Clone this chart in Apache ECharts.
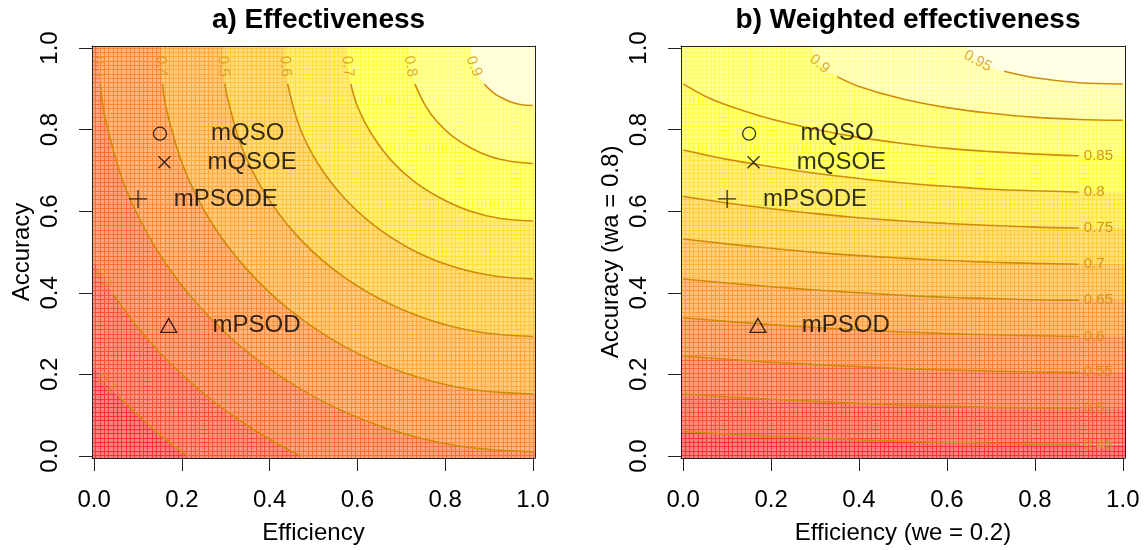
<!DOCTYPE html>
<html><head><meta charset="utf-8">
<script src="https://cdn.jsdelivr.net/npm/echarts@6/dist/echarts.min.js"></script>
<style>html,body{margin:0;padding:0;background:#fff}#c{width:1145px;height:550px}</style>
</head><body><div id="c"></div>
<script>
// ---------- data ----------
const tickValues = [0, 0.2, 0.4, 0.6, 0.8, 1.0];

const methodNames = ['mQSO', 'mQSOE', 'mPSODE', 'mPSOD'];
const methodEfficiency = [0.15, 0.16, 0.10, 0.17];
const methodAccuracy = [0.79, 0.72, 0.63, 0.32];

// panel a) contour levels and their traced lines [efficiency, accuracy]
const levelsA = [0.1, 0.2, 0.3, 0.4, 0.5, 0.6, 0.7, 0.8, 0.9];
const contourA_01 = [[0,0.213],[0.029,0.177],[0.055,0.147],[0.075,0.126],[0.1,0.1],[0.126,0.075],[0.147,0.055],[0.175,0.031],[0.2,0.01],[0.213,0]];
const contourA_02 = [[0,0.471],[0.02,0.435],[0.043,0.397],[0.1,0.314],[0.15,0.253],[0.2,0.2],[0.25,0.153],[0.3,0.111],[0.35,0.074],[0.4,0.041],[0.45,0.011],[0.471,0]];
const contourA_03 = [[0.01,1],[0.011,0.955],[0.014,0.912],[0.025,0.828],[0.07,0.661],[0.143,0.505],[0.242,0.364],[0.364,0.242],[0.505,0.143],[0.661,0.07],[0.828,0.025],[1,0.01]];
const contourA_04 = [[0.152,1],[0.153,0.955],[0.156,0.912],[0.164,0.853],[0.203,0.71],[0.265,0.576],[0.35,0.455],[0.455,0.35],[0.576,0.265],[0.71,0.203],[0.853,0.164],[1,0.152]];
const contourA_05 = [[0.293,1],[0.294,0.955],[0.298,0.912],[0.304,0.877],[0.336,0.758],[0.388,0.646],[0.458,0.545],[0.545,0.458],[0.646,0.388],[0.758,0.336],[0.877,0.304],[1,0.293]];
const contourA_06 = [[0.434,1],[0.436,0.955],[0.441,0.912],[0.468,0.807],[0.51,0.717],[0.567,0.636],[0.636,0.567],[0.717,0.51],[0.807,0.468],[0.902,0.443],[1,0.434]];
const contourA_07 = [[0.576,1],[0.578,0.955],[0.585,0.912],[0.601,0.855],[0.633,0.788],[0.675,0.727],[0.727,0.675],[0.788,0.633],[0.855,0.601],[0.926,0.582],[1,0.576]];
const contourA_08 = [[0.717,1],[0.721,0.955],[0.731,0.912],[0.755,0.859],[0.783,0.818],[0.818,0.783],[0.859,0.755],[0.903,0.734],[0.951,0.722],[1,0.717]];
const contourA_09 = [[0.859,1],[0.861,0.975],[0.866,0.955],[0.878,0.929],[0.889,0.912],[0.9,0.9],[0.912,0.889],[0.929,0.878],[0.952,0.867],[0.975,0.861],[1,0.859]];
const contoursA = [contourA_01, contourA_02, contourA_03, contourA_04, contourA_05, contourA_06, contourA_07, contourA_08, contourA_09];

// panel b) contour levels and their traced lines
const levelsB = [0.45, 0.5, 0.55, 0.6, 0.65, 0.7, 0.75, 0.8, 0.85, 0.9, 0.95];
const contourB_045 = [[0,0.06],[0.1,0.054],[0.2,0.049],[0.3,0.044],[0.4,0.039],[0.5,0.036],[0.6,0.033],[0.7,0.031],[0.8,0.029],[0.9,0.028],[1,0.028]];
const contourB_050 = [[0,0.152],[0.1,0.145],[0.2,0.139],[0.3,0.134],[0.4,0.129],[0.5,0.125],[0.6,0.122],[0.7,0.119],[0.8,0.118],[0.9,0.117],[1,0.116]];
const contourB_055 = [[0,0.245],[0.1,0.237],[0.2,0.23],[0.3,0.224],[0.4,0.219],[0.5,0.214],[0.6,0.211],[0.7,0.208],[0.8,0.206],[0.9,0.205],[1,0.205]];
const contourB_060 = [[0,0.339],[0.1,0.33],[0.2,0.322],[0.3,0.315],[0.4,0.309],[0.5,0.304],[0.6,0.3],[0.7,0.297],[0.8,0.295],[0.9,0.293],[1,0.293]];
const contourB_065 = [[0,0.434],[0.1,0.424],[0.2,0.415],[0.3,0.407],[0.4,0.4],[0.5,0.394],[0.6,0.389],[0.7,0.386],[0.8,0.383],[0.9,0.382],[1,0.381]];
const contourB_070 = [[0,0.532],[0.1,0.52],[0.2,0.509],[0.3,0.499],[0.4,0.491],[0.5,0.485],[0.6,0.479],[0.7,0.475],[0.8,0.472],[0.9,0.47],[1,0.47]];
const contourB_075 = [[0,0.636],[0.1,0.62],[0.2,0.606],[0.3,0.594],[0.4,0.584],[0.5,0.576],[0.6,0.57],[0.7,0.565],[0.8,0.561],[0.9,0.559],[1,0.558]];
const contourB_080 = [[0,0.75],[0.1,0.727],[0.2,0.709],[0.3,0.693],[0.4,0.68],[0.5,0.669],[0.6,0.661],[0.7,0.654],[0.8,0.65],[0.9,0.647],[1,0.646]];
const contourB_085 = [[0,0.912],[0.05,0.882],[0.1,0.86],[0.2,0.826],[0.3,0.801],[0.4,0.781],[0.5,0.766],[0.6,0.754],[0.7,0.746],[0.8,0.74],[0.9,0.736],[1,0.735]];
const contourB_090 = [[0.293,1],[0.3,0.975],[0.31,0.961],[0.35,0.93],[0.4,0.906],[0.5,0.875],[0.6,0.854],[0.7,0.84],[0.8,0.83],[0.9,0.825],[1,0.823]];
const contourB_095 = [[0.646,1],[0.66,0.976],[0.67,0.968],[0.7,0.953],[0.73,0.943],[0.8,0.927],[0.9,0.915],[1,0.912]];
const contoursB = [contourB_045, contourB_050, contourB_055, contourB_060, contourB_065, contourB_070, contourB_075, contourB_080, contourB_085, contourB_090, contourB_095];

// ---------- styles ----------
const FONT = "'Liberation Sans', Arial, Helvetica, sans-serif";
const heat10 = ['#FF0000','#FF2400','#FF4900','#FF6D00','#FF9200','#FFB600','#FFDB00','#FFFF00','#FFFF40','#FFFFBF'];
const heat12 = ['#FF0000','#FF2000','#FF4000','#FF6000','#FF8000','#FF9F00','#FFBF00','#FFDF00','#FFFF00','#FFFF2A','#FFFF80','#FFFFD5'];
const LINE_COLOR = '#cf8c0c';
const LABEL_COLOR = '#d2961e';
const XMIN = -0.005, XMAX = 1.005, YMIN = -0.005, YMAX = 1.005;
const GRIDS = [{left: 92, top: 46, width: 443, height: 412}, {left: 681, top: 46, width: 444, height: 412}];
const SM = 0.35;

function blend(hex, a) {
  const r = parseInt(hex.slice(1,3),16), g = parseInt(hex.slice(3,5),16), b = parseInt(hex.slice(5,7),16);
  const m = c => Math.round(255*(1-a) + c*a);
  return 'rgb(' + m(r) + ',' + m(g) + ',' + m(b) + ')';
}
function pattern(hex) {
  const cv = document.createElement('canvas');
  cv.width = 13; cv.height = 13;
  const ctx = cv.getContext('2d');
  ctx.fillStyle = blend(hex, 0.5); ctx.fillRect(0,0,13,13);
  ctx.fillStyle = blend(hex, 0.8);
  [0,4,9].forEach(p => { ctx.fillRect(p,0,1,13); ctx.fillRect(0,p,13,1); });
  return {image: cv, repeat: 'repeat'};
}
// stretch a traced line to the plot frame so the colour band fills reach the box
function extend(pts) {
  const out = pts.slice();
  const f = out[0], l = out[out.length-1];
  if (f[0] <= 0) out.unshift([XMIN, f[1]]);
  if (l[1] <= 0) { out.push([l[0], YMIN]); out.push([XMAX, YMIN]); }
  else if (l[0] >= 1) out.push([XMAX, l[1]]);
  return out;
}

function buildPanel(gi, levels, contours, colors, sideOf, cut) {
  const ax = gi*2;
  const g = GRIDS[gi];
  const SX = g.width/(XMAX-XMIN), SY = g.height/(YMAX-YMIN);
  const series = [];
  series.push({type:'line', xAxisIndex: ax, yAxisIndex: ax, data: extend(contours[0]), smooth: SM, symbol:'none',
    lineStyle:{width:0}, areaStyle:{origin:'start', color: pattern(colors[0]), opacity:1}, z:1, silent:true});
  levels.forEach((lv, i) => {
    series.push({type:'line', xAxisIndex: ax, yAxisIndex: ax, data: extend(contours[i]), smooth: SM, symbol:'none',
      lineStyle:{width:0}, areaStyle:{origin:'end', color: pattern(colors[i+1]), opacity:1}, z:1, silent:true});
  });
  const labs = [];
  levels.forEach((lv, i) => {
    const pts = contours[i], side = sideOf(lv);
    let vis;
    if (side === 'top') vis = pts.filter(p => p[1] <= cut.top);
    else if (side === 'left') vis = pts.filter(p => p[0] >= cut.left);
    else vis = pts.filter(p => p[0] <= cut.right);
    const s = {type:'line', xAxisIndex: ax, yAxisIndex: ax, data: vis, smooth: SM, symbol:'none',
      lineStyle:{color: LINE_COLOR, width:1.6}, z:3, silent:true};
    if (side === 'right') {
      s.endLabel = {show:true, formatter: String(lv), distance: 5, fontSize: 15, color: LABEL_COLOR, fontFamily: FONT};
    } else {
      let k = 0, best = 1e9;
      pts.forEach((p, j) => {
        const d = side === 'top' ? Math.abs(p[1]-cut.labelY) : Math.abs(p[0]-cut.labelX);
        if (d < best) { best = d; k = j; }
      });
      const a = pts[Math.max(0,k-1)], b = pts[Math.min(pts.length-1,k+1)];
      const ang = Math.atan2((b[1]-a[1])*SY, (b[0]-a[0])*SX) * 180/Math.PI;
      labs.push({value: pts[k], label:{rotate: ang, formatter: String(lv)}});
    }
    series.push(s);
  });
  series.push({type:'scatter', xAxisIndex: ax, yAxisIndex: ax, data: labs, symbolSize: 1,
    itemStyle:{color:'transparent'}, silent:true, z:4,
    label:{show:true, position:'inside', fontSize:15, color: LABEL_COLOR, fontFamily: FONT}});
  // method markers
  const symbols = {
    mQSO: {symbol:'circle', size:13},
    mQSOE: {symbol:'path://M0,0L10,10M10,0L0,10', size:12},
    mPSODE: {symbol:'path://M5,0L5,10M0,5L10,5', size:18},
    mPSOD: {symbol:'triangle', size:[16,14]}
  };
  series.push({type:'scatter', xAxisIndex: ax, yAxisIndex: ax, z:5, silent:true,
    data: methodNames.map((n, i) => ({value:[methodEfficiency[i], methodAccuracy[i]], symbol: symbols[n].symbol, symbolSize: symbols[n].size})),
    itemStyle:{color:'none', borderColor:'#000', borderWidth:1.3}});
  series.push({type:'scatter', xAxisIndex: ax, yAxisIndex: ax, z:5, silent:true, symbolSize:1,
    itemStyle:{color:'transparent'},
    data: methodNames.map((n, i) => ({value:[methodEfficiency[i] + 0.2, methodAccuracy[i]], name: n})),
    label:{show:true, position:'inside', formatter: p => p.name, fontSize:24, color:'#000', fontFamily: FONT}});
  return series;
}

function axesFor(gi, xName, yName) {
  const common = {gridIndex: gi, type:'value', min: XMIN, max: XMAX, z: 10, splitLine:{show:false}};
  const lab = {customValues: tickValues, formatter: v => v.toFixed(1), fontSize: 24, color:'#000', fontFamily: FONT, margin: 30};
  const tick = {show:true, length:13, customValues: tickValues, lineStyle:{color:'#222', width:1}};
  const line = {show:true, onZero:false, lineStyle:{color:'#222', width:1}};
  const nameStyle = {fontSize:24, color:'#000', fontFamily: FONT};
  return {
    x: [
      Object.assign({}, common, {position:'bottom', axisLine: line, axisTick: tick, axisLabel: lab,
        name: xName, nameLocation:'middle', nameGap: 63, nameTextStyle: nameStyle}),
      Object.assign({}, common, {position:'top', axisLine: line, axisTick:{show:false}, axisLabel:{show:false}})
    ],
    y: [
      Object.assign({}, common, {min: YMIN, max: YMAX, position:'left', axisLine: line, axisTick: tick,
        axisLabel: Object.assign({}, lab, {rotate: 90}),
        name: yName, nameLocation:'middle', nameGap: 58, nameRotate: 90, nameTextStyle: nameStyle}),
      Object.assign({}, common, {min: YMIN, max: YMAX, position:'right', axisLine: line, axisTick:{show:false}, axisLabel:{show:false}})
    ]
  };
}

const axA = axesFor(0, 'Efficiency', 'Accuracy');
const axB = axesFor(1, 'Efficiency (we = 0.2)', 'Accuracy (wa = 0.8)');

const seriesA = buildPanel(0, levelsA, contoursA, heat10, lv => (lv < 0.25 ? 'left' : 'top'),
  {top: 0.915, left: 0.04, labelY: 0.955, labelX: 0.025});
const seriesB = buildPanel(1, levelsB, contoursB, heat12, lv => (lv > 0.875 ? 'top' : 'right'),
  {top: 0.945, right: 0.9, labelY: 0.963});

const chart = echarts.init(document.getElementById('c'), null, {renderer:'canvas'});
chart.setOption({
  animation: false,
  backgroundColor: '#fff',
  textStyle: {fontFamily: FONT},
  title: [
    {text:'a) Effectiveness', left: GRIDS[0].left + GRIDS[0].width/2, top: 1, textAlign:'center',
      textStyle:{fontSize:28, fontWeight:'bold', color:'#000', fontFamily: FONT}},
    {text:'b) Weighted effectiveness', left: GRIDS[1].left + GRIDS[1].width/2, top: 1, textAlign:'center',
      textStyle:{fontSize:28, fontWeight:'bold', color:'#000', fontFamily: FONT}}
  ],
  grid: GRIDS.map(g => Object.assign({containLabel:false, show:false}, g)),
  xAxis: axA.x.concat(axB.x),
  yAxis: axA.y.concat(axB.y),
  series: seriesA.concat(seriesB)
});
</script>
</body></html>
